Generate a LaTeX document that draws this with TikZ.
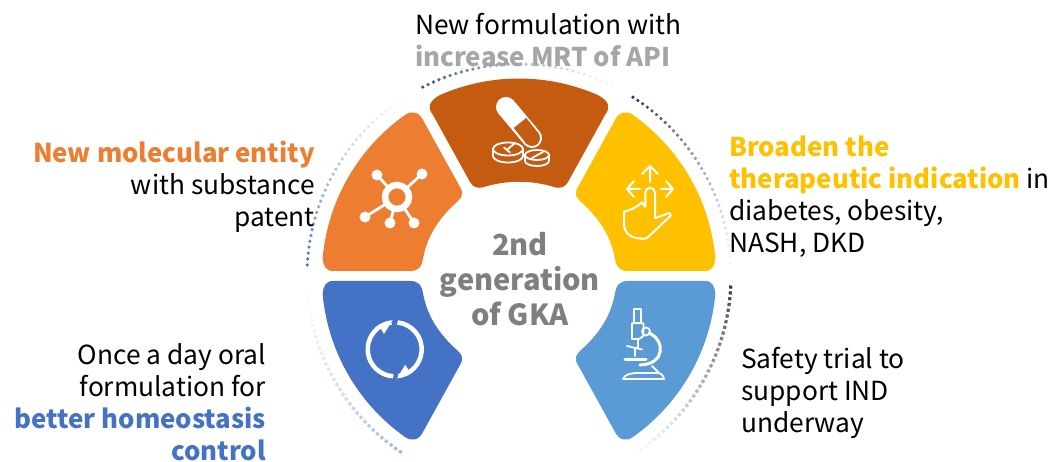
\documentclass[tikz,border=0pt]{standalone}
\usepackage{fontspec}
\setmainfont{Noto Sans CJK SC}
\definecolor{cOrange}{HTML}{ED7D31}
\definecolor{cBrown}{HTML}{C55A11}
\definecolor{cYellow}{HTML}{FFC000}
\definecolor{cBlue}{HTML}{4472C4}
\definecolor{cSky}{HTML}{5B9BD5}
\definecolor{cGrey}{HTML}{7F7F7F}
\definecolor{cLight}{HTML}{A6A6A6}
\definecolor{cNavy}{HTML}{1F3864}
\definecolor{cSlate}{HTML}{333F50}
\definecolor{cDots}{HTML}{2F5597}
\newcommand\boldtxt[2]{{\fontsize{25.8}{32}\selectfont\bfseries\textcolor{#1}{#2}}}
% colour, start angle, end angle, number of steps
\newcommand\dotarc[4]{%
  \pgfmathsetmacro\astep{(#3-(#2))/#4}%
  \foreach \k in {0,...,#4} {%
    \pgfmathsetmacro\ang{#2+\k*\astep}%
    \pgfmathsetmacro\pc{100*(0.04+0.96*(1-\k/#4)^1.3)}%
    \fill[#1!\pc!white] (\ang:212) circle[radius=1.8];%
  }%
}
\newcommand\sqarc[4]{%
  \pgfmathsetmacro\astep{(#3-(#2))/#4}%
  \foreach \k in {0,...,#4} {%
    \pgfmathsetmacro\ang{#2+\k*\astep}%
    \pgfmathsetmacro\pc{100*(0.04+0.96*(1-\k/#4)^1.3)}%
    \fill[#1!\pc!white,rotate around={\ang:(\ang:212)}] ([shift={(-1.6,-1.6)}]\ang:212) rectangle ([shift={(1.6,1.6)}]\ang:212);%
  }%
}
\tikzset{
  icon/.style={draw=white,line width=2,line cap=round,line join=round},
  lbl/.style={font=\fontsize{26.3}{32}\selectfont,inner sep=0pt},
  centerlbl/.style={font=\fontsize{29}{35}\selectfont\bfseries,text=cGrey,inner sep=0pt,align=center},
}
\begin{document}
\begin{tikzpicture}[x=1pt,y=1pt]
\useasboundingbox (-519,-186) rectangle (533,276);
% dotted arcs
\dotarc{cBlue}{177}{124}{33}
\dotarc{cDots}{117}{64}{33}
\dotarc{cNavy}{57.5}{3.5}{34}
\sqarc{cSlate}{-3}{-55}{33}
\sqarc{cBlue!50!white}{-124}{-176}{33}
% orange sector
\fill[cOrange] (-186,5) -- (-109,5) .. controls (-100,5) and (-97,10) .. (-96,17)
  .. controls (-92,40) and (-80,58) .. (-62,74)
  .. controls (-57,78) and (-55,83) .. (-59,89)
  -- (-96,156) .. controls (-100,164) and (-107,166) .. (-114,161)
  arc[start angle=125.3,end angle=174.7,radius=197]
  .. controls (-196,10) and (-193,5) .. (-186,5) -- cycle;
% brown sector
\fill[cBrown] (-79,181) arc[start angle=113.6,end angle=66.4,radius=197]
  .. controls (88,176) and (93,170) .. (86,161)
  -- (49,94) .. controls (46,89) and (42,87) .. (35,89)
  .. controls (12,96) and (-12,96) .. (-35,89)
  .. controls (-42,87) and (-46,89) .. (-49,94)
  -- (-86,161) .. controls (-93,170) and (-88,176) .. (-79,181) -- cycle;
% yellow sector
\fill[cYellow] (186,5) -- (109,5) .. controls (100,5) and (97,10) .. (96,17)
  .. controls (92,40) and (80,58) .. (62,74)
  .. controls (57,78) and (55,83) .. (59,89)
  -- (96,156) .. controls (100,164) and (107,166) .. (114,161)
  arc[start angle=54.7,end angle=5.3,radius=197]
  .. controls (196,10) and (193,5) .. (186,5) -- cycle;
% blue sector
\fill[cBlue] (-186,-5) -- (-109,-5) .. controls (-100,-5) and (-97,-10) .. (-96,-17)
  .. controls (-92,-40) and (-80,-58) .. (-62,-74)
  .. controls (-57,-78) and (-55,-83) .. (-59,-89)
  -- (-96,-156) .. controls (-100,-164) and (-107,-166) .. (-114,-161)
  arc[start angle=-125.3,end angle=-174.7,radius=197]
  .. controls (-196,-10) and (-193,-5) .. (-186,-5) -- cycle;
% sky sector
\fill[cSky] (186,-5) -- (109,-5) .. controls (100,-5) and (97,-10) .. (96,-17)
  .. controls (92,-40) and (80,-58) .. (62,-74)
  .. controls (57,-78) and (55,-83) .. (59,-89)
  -- (96,-156) .. controls (100,-164) and (107,-166) .. (114,-161)
  arc[start angle=-54.7,end angle=-5.3,radius=197]
  .. controls (196,-10) and (193,-5) .. (186,-5) -- cycle;
% molecule icon
\draw[white,line width=2.8] (-122,79) -- (-142,101) (-122,79) -- (-97,102) (-122,79) -- (-154,59) (-122,79) -- (-129,53) (-122,79) -- (-105,53);
\fill[white] (-142,101) circle[radius=5.5] (-97,102) circle[radius=5.5] (-154,59) circle[radius=5.5] (-129,53) circle[radius=5.5] (-105,53) circle[radius=5.5];
\filldraw[fill=cOrange,draw=white,line width=6.5] (-122,79) circle[radius=12];
% capsule and pills
\draw[white,line width=20,line cap=round] (-13,169) -- (13,138);
\draw[cBrown,line width=16] (1,153) -- (13,138);
\fill[cBrown] (13,138) circle[radius=8];
\begin{scope}[icon,line width=1.8]
\filldraw[fill=cBrown] (-26,120) -- (-26,127) arc[start angle=180,end angle=0,x radius=15,y radius=6.5] -- (4,120) arc[start angle=0,end angle=-180,x radius=15,y radius=6.5] -- cycle;
\draw (-26,127) arc[start angle=180,end angle=360,x radius=15,y radius=6.5];
\draw (-11,127) -- (-4,133) (-15,128.5) -- (-9,123.5);
\filldraw[fill=cBrown] (6,115) -- (6,121) arc[start angle=180,end angle=0,x radius=12,y radius=5] -- (30,115) arc[start angle=0,end angle=-180,x radius=12,y radius=5] -- cycle;
\draw (6,121) arc[start angle=180,end angle=360,x radius=12,y radius=5];
\draw (13,118) -- (24,124);
\end{scope}
% hand icon
\draw[icon] (131,94) -- (131,110) (123,102) -- (131,110) -- (139,102)
  (121,87) -- (108,87) (115,95) -- (108,87) -- (115,79)
  (142,87) -- (154,87) (147,95) -- (154,87) -- (147,79);
\draw[icon] (126.3,69.3) -- (126.3,83.3) arc[start angle=180,end angle=0,radius=4.85] -- (136,57.7)
  -- (149.3,62.7) .. controls (151,63.5) and (152.5,62) .. (151.7,60.3)
  -- (127.7,37.7) .. controls (124,36.5) and (122,37.5) .. (118,38)
  .. controls (110,39) and (105,44) .. (105,52) -- (105,64.3)
  .. controls (112,66) and (120,70) .. (122.7,73.7) -- (126.3,69.3);
% cycle icon
\draw[white,line width=4.5] (-124.3,-73.3) ++(97:27) arc[start angle=97,end angle=267,radius=27];
\draw[white,line width=4.5] (-124.3,-73.3) ++(84:27) arc[start angle=84,end angle=-82,radius=27];
\fill[white] (-126.3,-44) -- (-135,-58) -- (-139.7,-50) -- cycle;
\fill[white] (-122.3,-102.7) -- (-113.7,-88.7) -- (-109,-96.7) -- cycle;
% microscope icon
\begin{scope}[icon,line width=1.8]
\draw (115,-33.3) rectangle (122,-47.3);
\draw (113,-47.3) -- (124.5,-47.3) -- (124.5,-60) -- (120,-63) -- (113,-63) -- cycle;
\draw (119,-63) -- (119,-72);
\draw (127,-55.5) circle[radius=4];
\draw (108,-70) -- (123,-73.5);
\draw (116,-73) -- (116,-80);
\draw[line width=3] (106,-83.3) -- (127,-83.3);
\draw[line width=3] (130,-57) .. controls (146,-64) and (147,-88) .. (121,-89);
\draw (133,-90) -- (140,-97);
\draw (104,-103) .. controls (106,-98) and (112,-97) .. (120,-97) -- (138,-97) .. controls (142,-97) and (144,-99) .. (145,-103) -- (104,-103) -- cycle;
\end{scope}
% labels
\node[lbl,anchor=north west,align=left] (top) at (-104,263) {New formulation with\\\boldtxt{cLight}{increase MRT of API}};
\node[lbl,anchor=north east,align=right] (left) at (-204,135) {\boldtxt{cOrange}{New molecular entity}\\with substance\\patent};
\node[lbl,anchor=north west,align=left] (right) at (210,140) {\boldtxt{cYellow}{Broaden the}\\\boldtxt{cYellow}{therapeutic indication} in\\diabetes, obesity,\\NASH, DKD};
\node[lbl,anchor=north east,align=right] (lowleft) at (-253,-67) {Once a day oral\\formulation for\\\boldtxt{cBlue}{better homeostasis}\\\boldtxt{cBlue}{control}};
\node[lbl,anchor=north west,align=left] (lowright) at (222,-71) {Safety trial to\\support IND\\underway};
\node[centerlbl] (center) at (1,-3) {2nd\\generation\\of GKA};
\end{tikzpicture}
\end{document}
